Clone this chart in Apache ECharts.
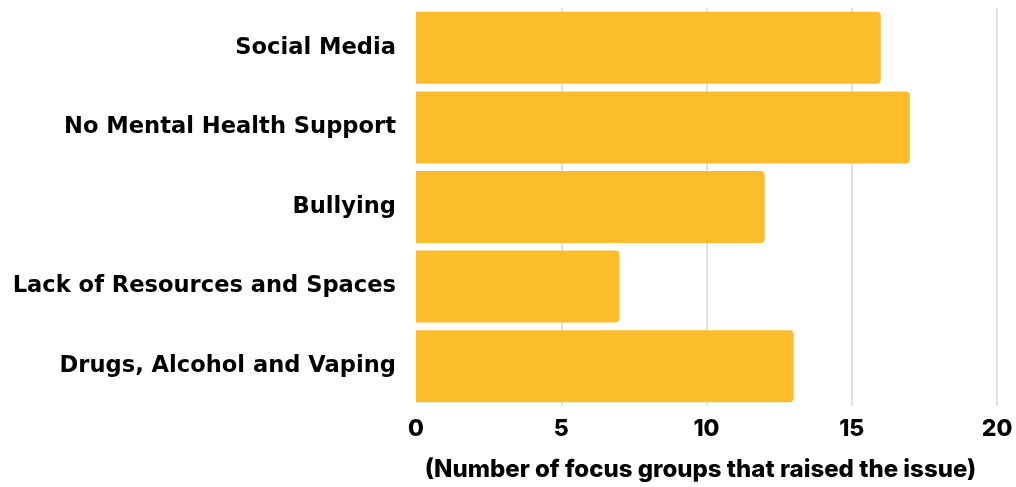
<!DOCTYPE html>
<html>
<head>
<meta charset="utf-8">
<script src="https://cdn.jsdelivr.net/npm/echarts@6/dist/echarts.min.js"></script>
<style>
  html, body { margin: 0; padding: 0; background: #ffffff; }
  #chart { width: 1016px; height: 487px; }
</style>
</head>
<body>
<div id="chart"></div>
<script>
// Issues raised, listed top to bottom
const categories = [
  'Social Media',
  'No Mental Health Support',
  'Bullying',
  'Lack of Resources and Spaces',
  'Drugs, Alcohol and Vaping'
];
// Number of focus groups that raised each issue
const focusGroupCounts = [16, 17, 12, 7, 13];
const xTicks = [0, 5, 10, 15, 20];
const xAxisTitle = '(Number of focus groups that raised the issue)';

const chart = echarts.init(document.getElementById('chart'), null, { renderer: 'canvas' });

chart.setOption({
  animation: false,
  backgroundColor: '#ffffff',
  grid: {
    left: 416, right: 19, top: 8, bottom: 81,
    containLabel: false,
    outerBoundsMode: 'none'
  },
  xAxis: {
    type: 'value',
    min: xTicks[0],
    max: xTicks[xTicks.length - 1],
    interval: xTicks[1] - xTicks[0],
    axisLine: { show: false },
    axisTick: { show: false },
    axisLabel: {
      margin: 12,
      color: '#000000',
      fontFamily: 'Inter',
      fontWeight: 800,
      fontSize: 23
    },
    splitLine: { show: true, showMinLine: false, lineStyle: { color: '#d6d6d6', width: 1.5 } },
    name: xAxisTitle,
    nameLocation: 'middle',
    nameGap: 52,
    nameTextStyle: {
      color: '#000000',
      fontFamily: 'Inter',
      fontWeight: 800,
      fontSize: 24,
      padding: [0, 12, 0, 0]
    }
  },
  yAxis: {
    type: 'category',
    data: categories,
    inverse: true,
    axisLine: { show: false },
    axisTick: { show: false },
    splitLine: { show: false },
    axisLabel: {
      margin: 20,
      color: '#000000',
      fontFamily: 'DejaVu Sans',
      fontWeight: 'bold',
      fontSize: 22.6
    }
  },
  series: [{
    type: 'bar',
    data: focusGroupCounts,
    barWidth: '90.5%',
    itemStyle: { color: '#FBBD2B', borderRadius: [0, 4, 4, 0] }
  }]
});
</script>
</body>
</html>
